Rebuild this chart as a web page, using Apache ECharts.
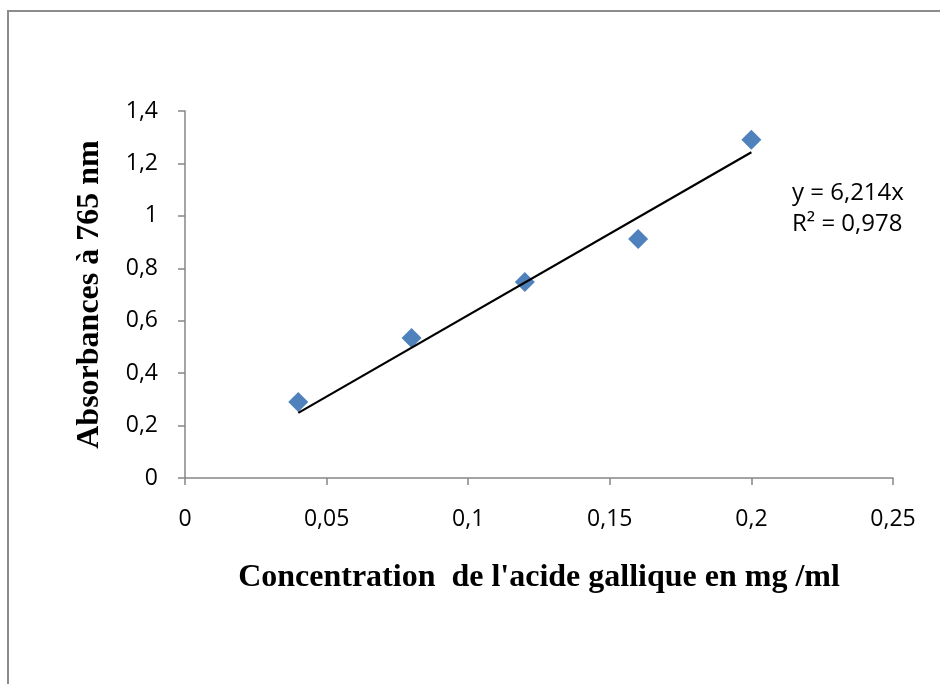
<!DOCTYPE html>
<html>
<head>
<meta charset="utf-8">
<script src="https://cdn.jsdelivr.net/npm/echarts@6/dist/echarts.min.js"></script>
<style>
  html, body { margin: 0; padding: 0; background: #fff; }
  #chart { width: 940px; height: 684px; }
</style>
</head>
<body>
<div id="chart"></div>
<script>
// Gallic acid calibration: concentration (mg/ml) vs absorbance at 765 nm
const concentrations = [0.04, 0.08, 0.12, 0.16, 0.2];
const absorbances = [0.29, 0.534, 0.748, 0.912, 1.29];

// Linear fit through the origin, as reported on the chart
const slope = 6.214;
const rSquared = 0.978;
const fitRange = [0.04, 0.2];

const xTicks = { min: 0, max: 0.25, interval: 0.05 };
const yTicks = { min: 0, max: 1.4, interval: 0.2 };

const fmt = v => String(+v.toFixed(3)).replace('.', ',');

const points = concentrations.map((c, i) => [c, absorbances[i]]);
const fitLine = fitRange.map(x => [x, slope * x]);

const chart = echarts.init(document.getElementById('chart'), null, { renderer: 'canvas' });

const axisGray = '#868686';
const tickFont = '"Open Sans", "Liberation Sans", Arial, sans-serif';
const titleFont = '"Liberation Serif", "Times New Roman", serif';

chart.setOption({
  animation: false,
  backgroundColor: '#fff',
  grid: { left: 185, right: 47, top: 111, bottom: 206 },
  xAxis: {
    type: 'value',
    min: xTicks.min, max: xTicks.max, interval: xTicks.interval,
    name: 'Concentration  de l\'acide gallique en mg /ml',
    nameLocation: 'middle',
    nameGap: 84,
    nameTextStyle: { fontFamily: titleFont, fontWeight: 'bold', fontSize: 32, color: '#000' },
    axisLine: { show: true, lineStyle: { color: axisGray, width: 1.5 } },
    axisTick: { show: true, length: 7, lineStyle: { color: axisGray, width: 1.5 } },
    axisLabel: { formatter: fmt, fontFamily: tickFont, fontSize: 23, color: '#000', margin: 30 },
    splitLine: { show: false }
  },
  yAxis: {
    type: 'value',
    min: yTicks.min, max: yTicks.max, interval: yTicks.interval,
    name: 'Absorbances à 765 nm',
    nameLocation: 'middle',
    nameGap: 79,
    nameTextStyle: { fontFamily: titleFont, fontWeight: 'bold', fontSize: 32, color: '#000' },
    axisLine: { show: true, lineStyle: { color: axisGray, width: 1.5 } },
    axisTick: { show: true, length: 7, lineStyle: { color: axisGray, width: 1.5 } },
    axisLabel: { formatter: fmt, fontFamily: tickFont, fontSize: 23, color: '#000', margin: 27 },
    splitLine: { show: false }
  },
  graphic: [
    {
      type: 'rect', silent: true, z: -1,
      shape: { x: 8, y: 11, width: 940, height: 700 },
      style: { fill: 'none', stroke: '#8c8c8c', lineWidth: 2 }
    },
    {
      type: 'text', left: 792, top: 181,
      style: { text: 'y = ' + fmt(slope) + 'x', font: '24px ' + tickFont, fill: '#000' }
    },
    {
      type: 'text', left: 792, top: 212,
      style: { text: 'R² = ' + fmt(rSquared), font: '24px ' + tickFont, fill: '#000' }
    }
  ],
  series: [
    {
      type: 'line',
      data: fitLine,
      symbol: 'none',
      lineStyle: { color: '#000', width: 2.2 },
      z: 3
    },
    {
      type: 'scatter',
      data: points,
      symbol: 'diamond',
      symbolSize: [20, 20],
      itemStyle: { color: '#4F81BD', opacity: 1 },
      z: 2
    }
  ]
});
</script>
</body>
</html>
